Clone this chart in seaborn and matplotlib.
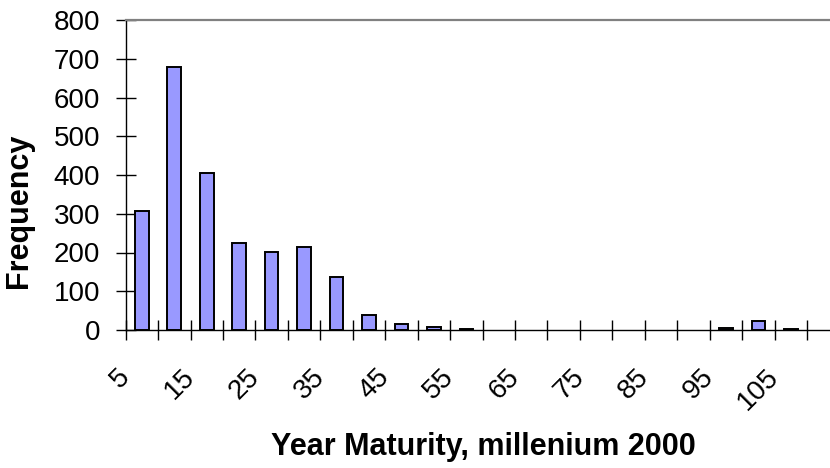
import matplotlib
matplotlib.use("Agg")
import matplotlib.pyplot as plt
import matplotlib.transforms as mtransforms
import seaborn as sns
import pandas as pd
import numpy as np

categories = ["5", "10", "15", "20", "25", "30", "35", "40", "45", "50", "55",
              "60", "65", "70", "75", "80", "85", "90", "95", "100", "105", "More"]
frequency = [308, 678, 404, 224, 201, 215, 138, 39, 15, 7, 2,
             0, 0, 0, 0, 0, 0, 0, 5, 24, 3, 0]
y_ticks = [0, 100, 200, 300, 400, 500, 600, 700, 800]

sns.set_style("white")
plt.rcParams["font.family"] = ["Liberation Sans", "DejaVu Sans"]
plt.rcParams["text.color"] = "black"
plt.rcParams["axes.labelcolor"] = "black"
plt.rcParams["xtick.color"] = "black"
plt.rcParams["ytick.color"] = "black"

df = pd.DataFrame({"bin": categories, "freq": frequency})

fig = plt.figure(figsize=(8.3, 4.68), dpi=100)
ax = fig.add_axes([125.6 / 830, 1 - 330 / 468, 713.9 / 830, 310 / 468])

sns.barplot(data=df, x="bin", y="freq", order=categories, color="#9999FF",
            saturation=1, edgecolor="black", linewidth=1.4, width=0.42, ax=ax)
for p in ax.patches:
    if p.get_height() == 0:
        p.set_linewidth(0)

n = len(categories)
ax.set_xlim(-0.5, n - 0.5)
ax.set_ylim(0, 800)
ax.set_yticks(y_ticks)
ax.set_yticklabels([str(v) for v in y_ticks], fontsize=20)

# label positions every other category
lab_pos = list(range(0, n - 1, 2))
ax.set_xticks(lab_pos)
ax.set_xticklabels([categories[i] for i in lab_pos], fontsize=20, rotation=45,
                   ha="right", va="center", rotation_mode="anchor")
ax.tick_params(axis="x", which="major", bottom=True, length=0, pad=31)
offset = mtransforms.ScaledTranslation(-16 / 100, 0, fig.dpi_scale_trans)
for lab in ax.get_xticklabels():
    lab.set_transform(lab.get_transform() + offset)

ax.set_xticks(np.arange(-0.5, n, 1.0), minor=True)
ax.tick_params(axis="x", which="minor", bottom=True, direction="inout",
               length=13.7, width=1, color="black")
ax.tick_params(axis="y", which="major", left=True, direction="inout",
               length=13.7, width=1, color="black", pad=11.5)

for side in ["left", "bottom"]:
    ax.spines[side].set_color("black")
    ax.spines[side].set_linewidth(1.0)
ax.spines["top"].set_color("#808080")
ax.spines["top"].set_linewidth(1.6)
ax.spines["right"].set_color("#808080")
ax.spines["right"].set_linewidth(1.6)

ax.set_xlabel("Year Maturity, millenium 2000", fontsize=22, fontweight="bold",
              va="center")
ax.set_ylabel("Frequency", fontsize=22, fontweight="bold")
ax.xaxis.set_label_coords(0.5006, (330 - 447) / 310)
ax.yaxis.set_label_coords((34 - 125.6) / 713.9, (330 - 211) / 310)

fig.savefig("out.png", dpi=100)
